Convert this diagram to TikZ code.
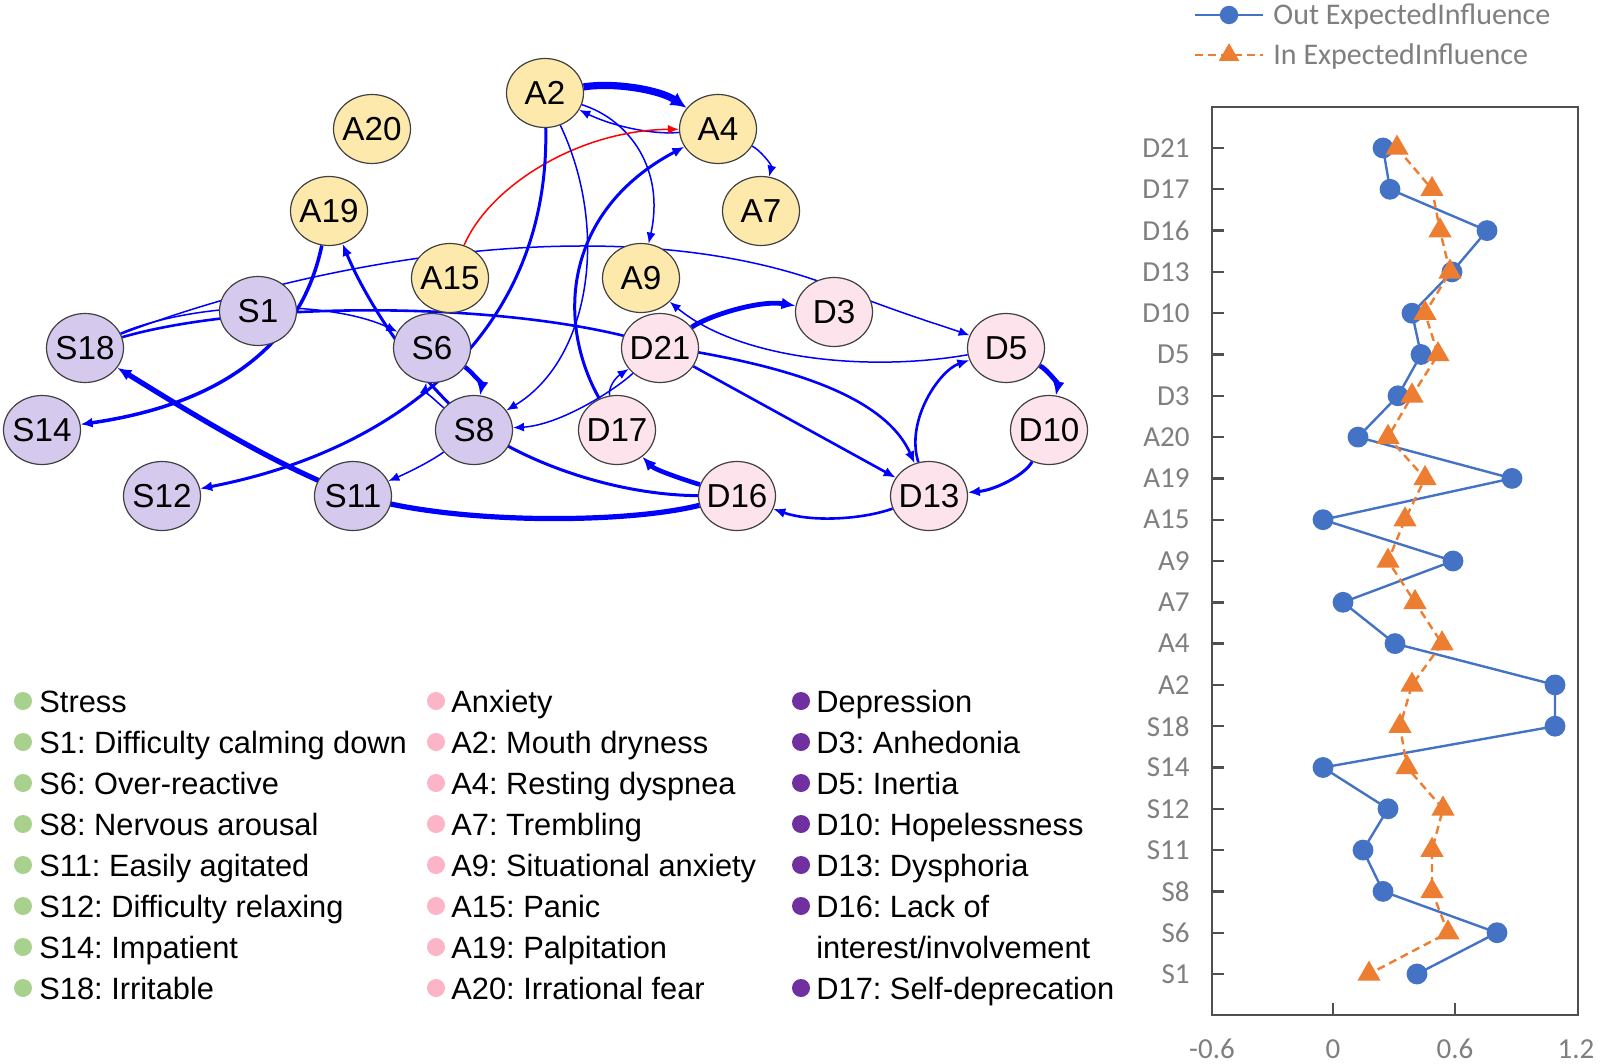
\documentclass[tikz,border=0pt]{standalone}
\usepackage{fontspec}
\setmainfont{Liberation Sans}
\newfontfamily\calib{Carlito}
\usetikzlibrary{shapes.geometric,arrows.meta,backgrounds,plotmarks}
\frenchspacing
\definecolor{ayel}{HTML}{FDE9AC}
\definecolor{slav}{HTML}{D5CAEE}
\definecolor{dpink}{HTML}{FDE3EC}
\definecolor{eblue}{HTML}{0000FF}
\definecolor{ered}{HTML}{FF0000}
\definecolor{lgreen}{HTML}{A9D18E}
\definecolor{lpink}{HTML}{FBB5C6}
\definecolor{lpurple}{HTML}{7030A0}
\definecolor{cblue}{HTML}{4472C4}
\definecolor{corange}{HTML}{ED7D31}
\definecolor{cgray}{HTML}{7F7F7F}
\definecolor{cframe}{HTML}{505050}
\newcommand{\nlab}[1]{\makebox[0pt][c]{#1}}
\tikzset{
  nd/.style={ellipse, draw=black!75, line width=0.6pt, minimum width=38.5pt, minimum height=34.5pt, inner sep=0pt, font=\fontsize{16.6}{20}\selectfont},
  anode/.style={nd, fill=ayel},
  snode/.style={nd, fill=slav},
  dnode/.style={nd, fill=dpink},
  ethin/.style={draw=eblue, line width=0.75pt, -{Latex[length=5.5pt,width=4.5pt]}},
  emed/.style={draw=eblue, line width=1.5pt, -{Latex[length=6pt,width=5pt]}},
  ethick/.style={draw=eblue, line width=2.4pt, -{Latex[length=7pt,width=6pt]}},
  legtxt/.style={anchor=base west, inner sep=0pt, font=\fontsize{15.4}{18}\selectfont},
  ylab/.style={anchor=east, inner sep=0pt, text=cgray, font=\calib\fontsize{14.5}{17}\selectfont},
  xlab/.style={anchor=center, inner sep=0pt, text=cgray, font=\calib\fontsize{14.5}{17}\selectfont},
  cleg/.style={anchor=base west, inner sep=0pt, text=cgray, font=\calib\fontsize{15}{18}\selectfont},
}
\begin{document}
\begin{tikzpicture}[x=0.5pt,y=-0.5pt]
\useasboundingbox (0,0) rectangle (1600,1064);

% ---------------- nodes ----------------
\node[anode] (A20) at (372,129) {\nlab{A20}};
\node[anode] (A2)  at (545,93)  {\nlab{A2}};
\node[anode] (A4)  at (718,129) {\nlab{A4}};
\node[anode] (A19) at (329,211) {\nlab{A19}};
\node[anode] (A7)  at (761,211) {\nlab{A7}};
\node[anode] (A15) at (450,278) {\nlab{A15}};
\node[anode] (A9)  at (641,278) {\nlab{A9}};
\node[snode] (S1)  at (258,311) {\nlab{S1}};
\node[dnode] (D3)  at (834,312) {\nlab{D3}};
\node[snode] (S18) at (85,348)  {\nlab{S18}};
\node[snode] (S6)  at (432,348) {\nlab{S6}};
\node[dnode] (D21) at (660,348) {\nlab{D21}};
\node[dnode] (D5)  at (1006,348) {\nlab{D5}};
\node[snode] (S14) at (42,430)  {\nlab{S14}};
\node[snode] (S8)  at (474,430) {\nlab{S8}};
\node[dnode] (D17) at (617,430) {\nlab{D17}};
\node[dnode] (D10) at (1049,430) {\nlab{D10}};
\node[snode] (S12) at (162,496) {\nlab{S12}};
\node[snode] (S11) at (353,496) {\nlab{S11}};
\node[dnode] (D16) at (737,496) {\nlab{D16}};
\node[dnode] (D13) at (929,496) {\nlab{D13}};

% hidden way points (inside nodes)
\coordinate (w1) at (660,346);
\coordinate (w2) at (477,427);
\coordinate (w3) at (842,290);
\coordinate (w4) at (353,494);

% ---------------- edges ----------------
\begin{pgfonlayer}{background}
\fill[white] (0,0) rectangle (1600,1064);
\draw[ethick, line width=3.6pt, -{Latex[length=8pt,width=7.5pt]}] (A2) .. controls (615,82) and (660,90) .. (A4);
\draw[ethin] (A4) .. controls (650,135) and (610,125) .. (A2);
\draw[ethin] (A2) .. controls (630,120) and (665,170) .. (A9);
\draw[ethin] (A4) .. controls (760,150) and (772,165) .. (A7);
\draw[ethin, draw=ered] (A15) .. controls (490,185) and (580,130) .. (A4);
\draw[emed] (A2) .. controls (550,330) and (400,450) .. (S12);
\draw[ethin] (A2) .. controls (610,230) and (590,360) .. (S8);
\draw[ethin] (D21) .. controls (615,390) and (560,425) .. (S8);
\draw[ethin] (D17) .. controls (608,388) and (615,378) .. (D21);
\draw[emed] (D17) .. controls (555,320) and (565,210) .. (A4);
\draw[ethick] (D21) .. controls (710,315) and (760,300) .. (D3);
\draw[ethin] (S18) .. controls (300,265) and (620,200) .. (w3) .. controls (897,312) and (940,325) .. (D5);
\draw[ethin] (S18) .. controls (200,300) and (330,300) .. (S6);
\draw[emed, line width=1.3pt] (S18) .. controls (250,300) and (520,300) .. (w1) .. controls (750,360) and (880,385) .. (D13);
\draw[emed, line width=1.75pt] (A19) .. controls (300,350) and (215,405) .. (S14);
\draw[emed] (D16) .. controls (620,495) and (532,466) .. (w2) .. controls (428,393) and (370,310) .. (A19);
\draw[ethick, line width=2.6pt] (D16) .. controls (620,525) and (442,524) .. (w4) .. controls (279,469) and (170,400) .. (S18);
\draw[ethick, line width=2.2pt] (S6) .. controls (470,370) and (482,385) .. (S8);
\draw[ethin] (S8) .. controls (440,405) and (425,390) .. (S6);
\draw[ethin] (S8) .. controls (430,462) and (405,474) .. (S11);
\draw[ethick, line width=2.3pt] (D16) .. controls (685,480) and (655,470) .. (D17);
\draw[emed, line width=1.3pt] (D13) .. controls (860,520) and (810,522) .. (D16);
\draw[emed] (D10) .. controls (1025,475) and (995,490) .. (D13);
\draw[ethick] (D5) .. controls (1048,370) and (1058,385) .. (D10);
\draw[emed, line width=1.3pt] (D13) .. controls (905,420) and (940,370) .. (D5);
\draw[emed, line width=1.3pt] (D21) -- (D13);
\draw[ethin] (D5) .. controls (870,372) and (740,360) .. (A9);
\end{pgfonlayer}

% ---------------- legend ----------------
\foreach \i in {0,...,7} \fill[lgreen] (23,{701+41*\i}) circle (4.5pt);
\foreach \i in {0,...,7} \fill[lpink] (436,{701+41*\i}) circle (4.5pt);
\foreach \i in {0,...,5,7} \fill[lpurple] (801,{701+41*\i}) circle (4.5pt);
\foreach \t [count=\i] in {Stress, S1: Difficulty calming down, S6: Over-reactive, S8: Nervous arousal, S11: Easily agitated, S12: Difficulty relaxing, S14: Impatient, S18: Irritable}
  \node[legtxt] (ls\i) at (39,{701+41*(\i-1)+11}) {\t};
\foreach \t [count=\i] in {Anxiety, A2: Mouth dryness, A4: Resting dyspnea, A7: Trembling, A9: Situational anxiety, A15: Panic, A19: Palpitation, A20: Irrational fear}
  \node[legtxt] (la\i) at (451,{701+41*(\i-1)+11}) {\t};
\foreach \t [count=\i] in {Depression, D3: Anhedonia, D5: Inertia, D10: Hopelessness, D13: Dysphoria, D16: Lack of, {interest/involvement}, D17: Self-deprecation}
  \node[legtxt] (ld\i) at (816,{701+41*(\i-1)+11}) {\t};

% ---------------- chart ----------------
\draw[cframe, line width=1.3pt] (1212,107) rectangle (1578,1015);
\foreach \lab [count=\i from 0] in {D21,D17,D16,D13,D10,D5,D3,A20,A19,A15,A9,A7,A4,A2,S18,S14,S12,S11,S8,S6,S1} {
  \draw[cframe, line width=1.2pt] (1212,{148+41.3*\i}) -- (1224,{148+41.3*\i});
  \node[ylab] (y\lab) at (1190,{148+41.3*\i}) {\lab};
}
\draw[cframe, line width=1.2pt] (1333,1015) -- (1333,1003);
\draw[cframe, line width=1.2pt] (1455,1015) -- (1455,1003);
\node[xlab] (xa) at (1212,1049) {-0.6};
\node[xlab] (xb) at (1333,1049) {0};
\node[xlab] (xc) at (1455,1049) {0.6};
\node[xlab] (xd) at (1576,1049) {1.2};

\draw[cblue, line width=1.2pt, line join=round] plot[mark=*, mark size=4.6pt, mark options={fill=cblue, draw=cblue}] coordinates {
(1383,148) (1390,189.3) (1487,230.6) (1452,271.9) (1412,313.2) (1421,354.5) (1398,395.8) (1358,437.1) (1512,478.4) (1323,519.7) (1453,561) (1343,602.3) (1395,643.6) (1555,684.9) (1555,726.2) (1323,767.5) (1388,808.8) (1363,850.1) (1383,891.4) (1497,932.7) (1417,974)};
\draw[corange, line width=1.2pt, dash pattern=on 4pt off 2.5pt] plot[mark=triangle*, mark size=5.5pt, mark options={solid, fill=corange, draw=corange}] coordinates {
(1397,148) (1432,189.3) (1440,230.6) (1450,271.9) (1425,313.2) (1438,354.5) (1412,395.8) (1388,437.1) (1425,478.4) (1405,519.7) (1388,561) (1415,602.3) (1442,643.6) (1412,684.9) (1400,726.2) (1407,767.5) (1443,808.8) (1432,850.1) (1432,891.4) (1448,932.7) (1369,974)};

% chart legend
\draw[cblue, line width=1.3pt] (1195,15) -- (1263,15);
\fill[cblue] (1229,15) circle (4.6pt);
\draw[corange, line width=1.3pt, dash pattern=on 4pt off 2.5pt] (1195,55) -- (1263,55);
\path plot[mark=triangle*, mark size=5.5pt, mark options={solid, fill=corange, draw=corange}] coordinates {(1229,55)};
\node[cleg] (lo) at (1273,25) {Out ExpectedInfluence};
\node[cleg] (li) at (1273,65) {In ExpectedInfluence};
\end{tikzpicture}
\end{document}
